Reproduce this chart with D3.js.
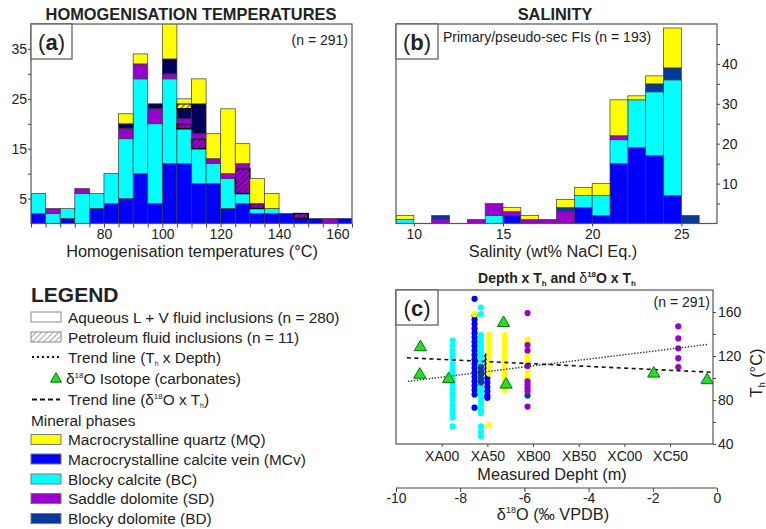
<!DOCTYPE html>
<html>
<head>
<meta charset="utf-8">
<script src="https://cdn.jsdelivr.net/npm/d3@7/dist/d3.min.js"></script>
<style>
  body { margin: 0; background: #fff; }
  svg { font-family: "Liberation Sans", Arial, sans-serif; }
</style>
</head>
<body>
<svg id="chart" width="766" height="529"></svg>
<script>
// ---- (a) homogenisation temperatures, 5 degC bins
const tempBins = [55, 60, 65, 70, 75, 80, 85, 90, 95, 100, 105, 110, 115, 120, 125, 130, 135, 140, 145, 150, 155, 160];
const tempLabels = [80, 100, 120, 140, 160];
const thMCv  = [2, 0, 1, 0, 3, 4, 5, 10, 4, 12, 12, 8, 8, 3, 4, 2, 2, 2, 1, 1, 0, 1];
const thBC   = [4, 2, 2, 6, 3, 6, 12, 19, 16, 17, 7, 7, 4, 6, 2, 1, 1, 0, 0, 0, 0, 0];
const thSDp  = [0, 0, 0, 0, 0, 0, 0, 0, 0, 0, 1, 2, 0, 0, 5, 1, 0, 0, 1, 0, 0, 0];
const thSD   = [0, 1, 0, 1, 0, 0, 2, 3, 3, 1, 1, 1, 1, 1, 1, 0, 0, 0, 0, 0, 1, 0];
const thBD   = [0, 0, 0, 0, 0, 0, 1, 0, 1, 3, 2, 6, 0, 0, 0, 0, 0, 0, 0, 0, 0, 0];
const thMQp  = [0, 0, 0, 0, 0, 0, 0, 0, 0, 0, 1, 0, 0, 0, 0, 0, 0, 0, 0, 0, 0, 0];
const thMQ   = [0, 0, 0, 0, 0, 0, 2, 2, 0, 10, 1, 5, 5, 13, 4, 5, 3, 0, 0, 0, 0, 0];
const countLabelsA = [5, 15, 25, 35];

// ---- (b) salinity, 1 wt% bins
const salBins = [9, 10, 11, 12, 13, 14, 15, 16, 17, 18, 19, 20, 21, 22, 23, 24, 25, 26];
const salLabels = [10, 15, 20, 25];
const salMCv = [0, 0, 0, 0, 0, 0, 2, 0, 0, 0, 4, 2, 15, 19, 17, 7, 0, 0];
const salBC  = [1, 0, 0, 0, 0, 2, 0, 0, 0, 0, 3, 5, 6, 12, 16, 29, 0, 0];
const salSD  = [0, 0, 1, 0, 1, 3, 1, 1, 1, 3, 0, 0, 1, 0, 0, 0, 0, 0];
const salBD  = [0, 0, 1, 0, 0, 0, 0, 0, 0, 1, 0, 0, 0, 0, 2, 3, 2, 0];
const salMQ  = [1, 0, 0, 0, 0, 0, 1, 1, 0, 2, 2, 3, 9, 1, 2, 10, 0, 0];
const countLabelsB = [10, 20, 30, 40];

// ---- (c) depth x Th, columns of [depth, Th values]
const depthTicks = [0, 50, 100, 150, 200, 250];
const depthLabels = ["XA00", "XA50", "XB00", "XB50", "XC00", "XC50"];
const thLabelsC = [40, 80, 120, 160];
const isoTicks = [-10, -8, -6, -4, -2, 0];
const colBC = [
  [12, [134, 129, 125, 121, 118, 113, 109, 106, 102, 98, 94, 90, 86, 83, 79, 75, 71, 68, 64, 56]],
  [43, [164, 158, 139, 135, 131, 127, 123, 119, 115, 111, 107, 103, 99, 95, 91, 87, 83, 79, 75, 71, 68, 56, 51, 47]]
];
const colMCv = [
  [36, [172, 157, 153, 149, 145, 141, 137, 133, 129, 125, 121, 117, 113, 109, 105, 101, 97, 93, 89, 85, 73]],
  [50, [120, 116, 112, 108, 104, 100, 96, 92, 88, 84, 82]]
];
const colBD = [
  [43, [110, 106, 103, 99, 96]],
  [94, [84]]
];
const colMQ = [
  [36, [158]],
  [52, [139, 135, 131, 127, 123, 119, 115, 111, 107, 104, 57]],
  [69, [139, 135, 131, 127, 123, 119, 115, 111, 107, 103, 99, 95, 91, 89]],
  [94, [135, 132, 121, 118, 114, 106, 102, 99]]
];
const colSD = [
  [94, [159, 130, 125, 111, 97, 94, 91, 88, 74]],
  [259, [147, 136, 127, 118, 110]]
];
const isoD18O = [-9.24, -9.26, -8.36, -6.65, -6.57, -1.97, -0.31];
const isoTh = [128, 103, 99, 150, 94, 104, 98];
const trendDepth = [[-37, 97], [292, 130.6]];
const trendIso = [[-9.66, 118.4], [-0.16, 105.2]];

const svg = d3.select("#chart");
const defs = svg.append("defs");
const ink = "#222";

function hatch(id, bg, line) {
  const p = defs.append("pattern").attr("id", id).attr("patternUnits", "userSpaceOnUse")
    .attr("width", 4).attr("height", 4).attr("patternTransform", "rotate(45)");
  p.append("rect").attr("width", 4).attr("height", 4).attr("fill", bg);
  p.append("line").attr("x1", 0).attr("y1", 0).attr("x2", 0).attr("y2", 4)
    .attr("stroke", line).attr("stroke-width", 1.3);
}
hatch("hSD", "#9900cc", "#111");
hatch("hMQ", "#ffff00", "#111");
hatch("hLeg", "#fff", "#777");

function clip(id, x0, y0, x1, y1) {
  defs.append("clipPath").attr("id", id).append("rect")
    .attr("x", x0).attr("y", y0).attr("width", x1 - x0).attr("height", y1 - y0);
}

function styleAxis(g, size) {
  g.attr("font-family", "Liberation Sans, Arial, sans-serif").attr("font-size", size);
  g.select(".domain").remove();
  g.selectAll(".tick line").attr("stroke", "#444");
  g.selectAll(".tick text").attr("fill", ink);
}

function drawHist(rows, keys, styles, x, y, w, clipId) {
  const layers = d3.stack().keys(keys)(rows);
  const g = svg.append("g").attr("clip-path", `url(#${clipId})`);
  layers.forEach((layer) => {
    const st = styles[layer.key];
    g.selectAll(null).data(layer.filter((d) => d[1] > d[0])).join("rect")
      .attr("x", (d) => x(d.data.bin))
      .attr("width", (d) => x(d.data.bin + w) - x(d.data.bin))
      .attr("y", (d) => y(d[1]))
      .attr("height", (d) => y(d[0]) - y(d[1]))
      .attr("fill", st.fill)
      .attr("stroke", st.hatched ? "#000" : "#3a3a3a")
      .attr("stroke-width", st.hatched ? 1.4 : 0.7);
  });
}

function frame(x0, y0, x1, y1) {
  svg.append("rect").attr("x", x0).attr("y", y0).attr("width", x1 - x0).attr("height", y1 - y0)
    .attr("fill", "none").attr("stroke", "#555").attr("stroke-width", 1.2);
}

function tagBox(x0, y0, w, h, letter) {
  svg.append("rect").attr("x", x0).attr("y", y0).attr("width", w).attr("height", h)
    .attr("fill", "#fff").attr("stroke", "#555").attr("stroke-width", 1.2);
  const t = svg.append("text").attr("x", x0 + w / 2).attr("y", y0 + h / 2 + 8)
    .attr("text-anchor", "middle").attr("font-size", 22).attr("fill", ink);
  t.append("tspan").text("(");
  t.append("tspan").attr("font-weight", "bold").text(letter);
  t.append("tspan").text(")");
}

function text(x, y, s, size, opts = {}) {
  return svg.append("text").attr("x", x).attr("y", y).attr("font-size", size)
    .attr("text-anchor", opts.anchor || "start").attr("font-weight", opts.bold ? "bold" : null)
    .attr("fill", ink).text(s);
}

// ============ panel (a)
const xA = d3.scaleLinear().domain([55, 165]).range([31, 352]);
const yA = d3.scaleLinear().domain([0, 40]).range([223.5, 24]);
clip("clipA", 31, 24, 352, 223.5);
const rowsA = tempBins.map((b, i) => ({
  bin: b, MCv: thMCv[i], BC: thBC[i], SDp: thSDp[i], SD: thSD[i], BD: thBD[i], MQp: thMQp[i], MQ: thMQ[i]
}));
drawHist(rowsA, ["MCv", "BC", "SDp", "SD", "BD", "MQp", "MQ"], {
  MCv: { fill: "#0000ff" }, BC: { fill: "#00ffff" }, SDp: { fill: "url(#hSD)", hatched: true },
  SD: { fill: "#9900cc" }, BD: { fill: "#000058" }, MQp: { fill: "url(#hMQ)", hatched: true }, MQ: { fill: "#ffff00" }
}, xA, yA, 5, "clipA");
frame(31, 24, 352, 223.5);
svg.append("g").attr("transform", "translate(31,0)")
  .call(d3.axisLeft(yA).tickValues([5, 10, 15, 20, 25, 30, 35])
    .tickFormat((d) => (countLabelsA.includes(d) ? d : "")).tickSize(3).tickPadding(1))
  .call((g) => styleAxis(g, 14));
svg.append("g").attr("transform", "translate(0,223.5)")
  .call(d3.axisBottom(xA).tickValues(tempBins.concat([165]))
    .tickFormat((d) => (tempLabels.includes(d) ? d : "")).tickSize(4).tickPadding(2))
  .call((g) => styleAxis(g, 14));
tagBox(31, 24, 41, 35, "a");
text(348, 45, "(n = 291)", 14, { anchor: "end" });
text(191, 20, "HOMOGENISATION TEMPERATURES", 16.4, { anchor: "middle", bold: true });
text(192, 256.5, "Homogenisation temperatures (°C)", 16.3, { anchor: "middle" });

// ============ panel (b)
const xB = d3.scaleLinear().domain([9, 27]).range([396, 717]);
const yB = d3.scaleLinear().domain([0, 50]).range([223.5, 24]);
clip("clipB", 396, 24, 717, 223.5);
const rowsB = salBins.map((b, i) => ({ bin: b, MCv: salMCv[i], BC: salBC[i], SD: salSD[i], BD: salBD[i], MQ: salMQ[i] }));
drawHist(rowsB, ["MCv", "BC", "SD", "BD", "MQ"], {
  MCv: { fill: "#0000ff" }, BC: { fill: "#00ffff" }, SD: { fill: "#9900cc" }, BD: { fill: "#08389a" }, MQ: { fill: "#ffff00" }
}, xB, yB, 1, "clipB");
frame(396, 24, 717, 223.5);
svg.append("g").attr("transform", "translate(717,0)")
  .call(d3.axisRight(yB).tickValues([5, 10, 15, 20, 25, 30, 35, 40, 45])
    .tickFormat((d) => (countLabelsB.includes(d) ? d : "")).tickSize(3).tickPadding(2))
  .call((g) => styleAxis(g, 14));
svg.append("g").attr("transform", "translate(0,223.5)")
  .call(d3.axisBottom(xB).tickValues(salLabels).tickSize(3).tickPadding(3))
  .call((g) => styleAxis(g, 14));
tagBox(396, 24, 42, 35, "b");
text(443, 41.5, "Primary/pseudo-sec FIs (n = 193)", 14);
text(555, 20, "SALINITY", 16.4, { anchor: "middle", bold: true });
text(553, 256.5, "Salinity (wt% NaCl Eq.)", 16.3, { anchor: "middle" });

// ============ panel (c)
const xD = d3.scaleLinear().domain([-50, 297]).range([396, 713]);
const yC = d3.scaleLinear().domain([40, 180]).range([444, 290]);
const xI = d3.scaleLinear().domain([-10, 0]).range([396, 717]);
clip("clipC", 396, 290, 713, 444);

const gC = svg.append("g").attr("clip-path", "url(#clipC)");
[[colBC, "#00ffff"], [colMCv, "#0000ff"], [colBD, "#08389a"], [colMQ, "#ffff00"], [colSD, "#9900cc"]]
  .forEach(([cols, color]) => {
    const pts = cols.flatMap(([dep, ths]) => ths.map((th) => ({ dep, th })));
    gC.selectAll(null).data(pts).join("circle")
      .attr("cx", (d) => xD(d.dep)).attr("cy", (d) => yC(d.th)).attr("r", 3.1)
      .attr("fill", color);
  });
gC.append("path").datum(trendDepth)
  .attr("d", d3.line().x((d) => xD(d[0])).y((d) => yC(d[1])))
  .attr("fill", "none").attr("stroke", "#333").attr("stroke-width", 1.4).attr("stroke-dasharray", "1.4,1.6");
gC.append("path").datum(trendIso)
  .attr("d", d3.line().x((d) => xI(d[0])).y((d) => yC(d[1])))
  .attr("fill", "none").attr("stroke", "#111").attr("stroke-width", 1.6).attr("stroke-dasharray", "4,3.5");
gC.selectAll(null).data(isoD18O).join("path")
  .attr("transform", (d, i) => `translate(${xI(d)},${yC(isoTh[i])})`)
  .attr("d", d3.symbol(d3.symbolTriangle, 64))
  .attr("fill", "#22e022").attr("stroke", "#0a6a0a").attr("stroke-width", 1);
frame(396, 290, 713, 444);

svg.append("g").attr("transform", "translate(713,0)")
  .call(d3.axisRight(yC).tickValues([40, 60, 80, 100, 120, 140, 160])
    .tickFormat((d) => (thLabelsC.includes(d) ? d : "")).tickSize(3).tickPadding(2))
  .call((g) => styleAxis(g, 14));
svg.append("g").attr("transform", "translate(0,444)")
  .call(d3.axisBottom(xD).tickValues(depthTicks)
    .tickFormat((d, i) => depthLabels[i]).tickSize(3).tickPadding(4))
  .call((g) => styleAxis(g, 14));
svg.append("g").attr("transform", "translate(0,488)")
  .call(d3.axisBottom(xI).tickValues(isoTicks).tickFormat((d) => String(d)).tickSize(4).tickSizeOuter(0).tickPadding(1))
  .call((g) => {
    styleAxis(g, 14);
    g.append("line").attr("x1", xI(-10)).attr("x2", xI(0)).attr("stroke", "#444");
  });

tagBox(396, 290, 42, 35, "c");
text(710, 306.5, "(n = 291)", 14, { anchor: "end" });
{
  const t = text(557, 283, "", 14, { anchor: "middle", bold: true });
  t.append("tspan").text("Depth x T");
  t.append("tspan").attr("font-size", 8).attr("dy", 3).text("h");
  t.append("tspan").attr("dy", -3).text(" and ");
  t.append("tspan").attr("font-weight", "normal").text("δ");
  t.append("tspan").attr("font-size", 8).attr("dy", -6).text("18");
  t.append("tspan").attr("dy", 6).text("O x T");
  t.append("tspan").attr("font-size", 8).attr("dy", 3).text("h");
}
text(552, 480, "Measured Depht (m)", 16.3, { anchor: "middle" });
{
  const t = text(553, 520, "", 16.3, { anchor: "middle" });
  t.append("tspan").text("δ");
  t.append("tspan").attr("font-size", 9).attr("dy", -7).text("18");
  t.append("tspan").attr("dy", 7).text("O (‰ VPDB)");
}
{
  const t = svg.append("text").attr("transform", "translate(762,373) rotate(-90)")
    .attr("text-anchor", "middle").attr("font-size", 16.3).attr("fill", ink);
  t.append("tspan").text("T");
  t.append("tspan").attr("font-size", 9).attr("dy", 3).text("h");
  t.append("tspan").attr("dy", -3).text(" (°C)");
}

// ============ legend
const legY = [317, 337, 357, 378, 399.5, 420.5, 439.5, 459, 479, 498.5, 518.5];
text(31, 302, "LEGEND", 21, { bold: true });
const sw = (y, fill, stroke) => svg.append("rect").attr("x", 31).attr("y", y - 5).attr("width", 30).attr("height", 10)
  .attr("fill", fill).attr("stroke", stroke).attr("stroke-width", 1);
sw(legY[0], "#fff", "#888");
text(68, legY[0] + 5.5, "Aqueous L + V fluid inclusions (n = 280)", 15.4);
sw(legY[1], "url(#hLeg)", "#888");
text(68, legY[1] + 5.5, "Petroleum fluid inclusions (n = 11)", 15.4);

svg.append("line").attr("x1", 32).attr("x2", 60).attr("y1", legY[2]).attr("y2", legY[2])
  .attr("stroke", "#111").attr("stroke-width", 2.2).attr("stroke-dasharray", "2,3");
{
  const t = text(68, legY[2] + 5.5, "Trend line (T", 15.4);
  t.append("tspan").attr("font-size", 7).attr("dy", 3).text("h");
  t.append("tspan").attr("dy", -3).text("  x Depth)");
}
svg.append("path").attr("transform", `translate(56,${legY[3] + 1})`)
  .attr("d", d3.symbol(d3.symbolTriangle, 52)).attr("fill", "#22e022").attr("stroke", "#0a6a0a");
{
  const t = text(66, legY[3] + 5.5, "δ", 15.4);
  t.append("tspan").attr("font-size", 8).attr("dy", -6).text("18");
  t.append("tspan").attr("dy", 6).text("O Isotope (carbonates)");
}
svg.append("line").attr("x1", 32).attr("x2", 60).attr("y1", legY[4]).attr("y2", legY[4])
  .attr("stroke", "#111").attr("stroke-width", 2.2).attr("stroke-dasharray", "5,3");
{
  const t = text(68, legY[4] + 5.5, "Trend line (δ", 15.4);
  t.append("tspan").attr("font-size", 8).attr("dy", -6).text("18");
  t.append("tspan").attr("dy", 6).text("O  x T");
  t.append("tspan").attr("font-size", 7).attr("dy", 3).text("h");
  t.append("tspan").attr("dy", -3).text(")");
}
text(31, legY[5] + 5.5, "Mineral phases", 15.4);
const minerals = [
  ["Macrocrystalline quartz (MQ)", "#ffff00"],
  ["Macrocrystalline calcite vein (MCv)", "#0000ff"],
  ["Blocky calcite (BC)", "#00ffff"],
  ["Saddle dolomite (SD)", "#9900cc"],
  ["Blocky dolomite (BD)", "#08389a"]
];
minerals.forEach(([name, color], i) => {
  sw(legY[6 + i], color, "#777");
  text(68, legY[6 + i] + 5.5, name, 15.4);
});
</script>
</body>
</html>
